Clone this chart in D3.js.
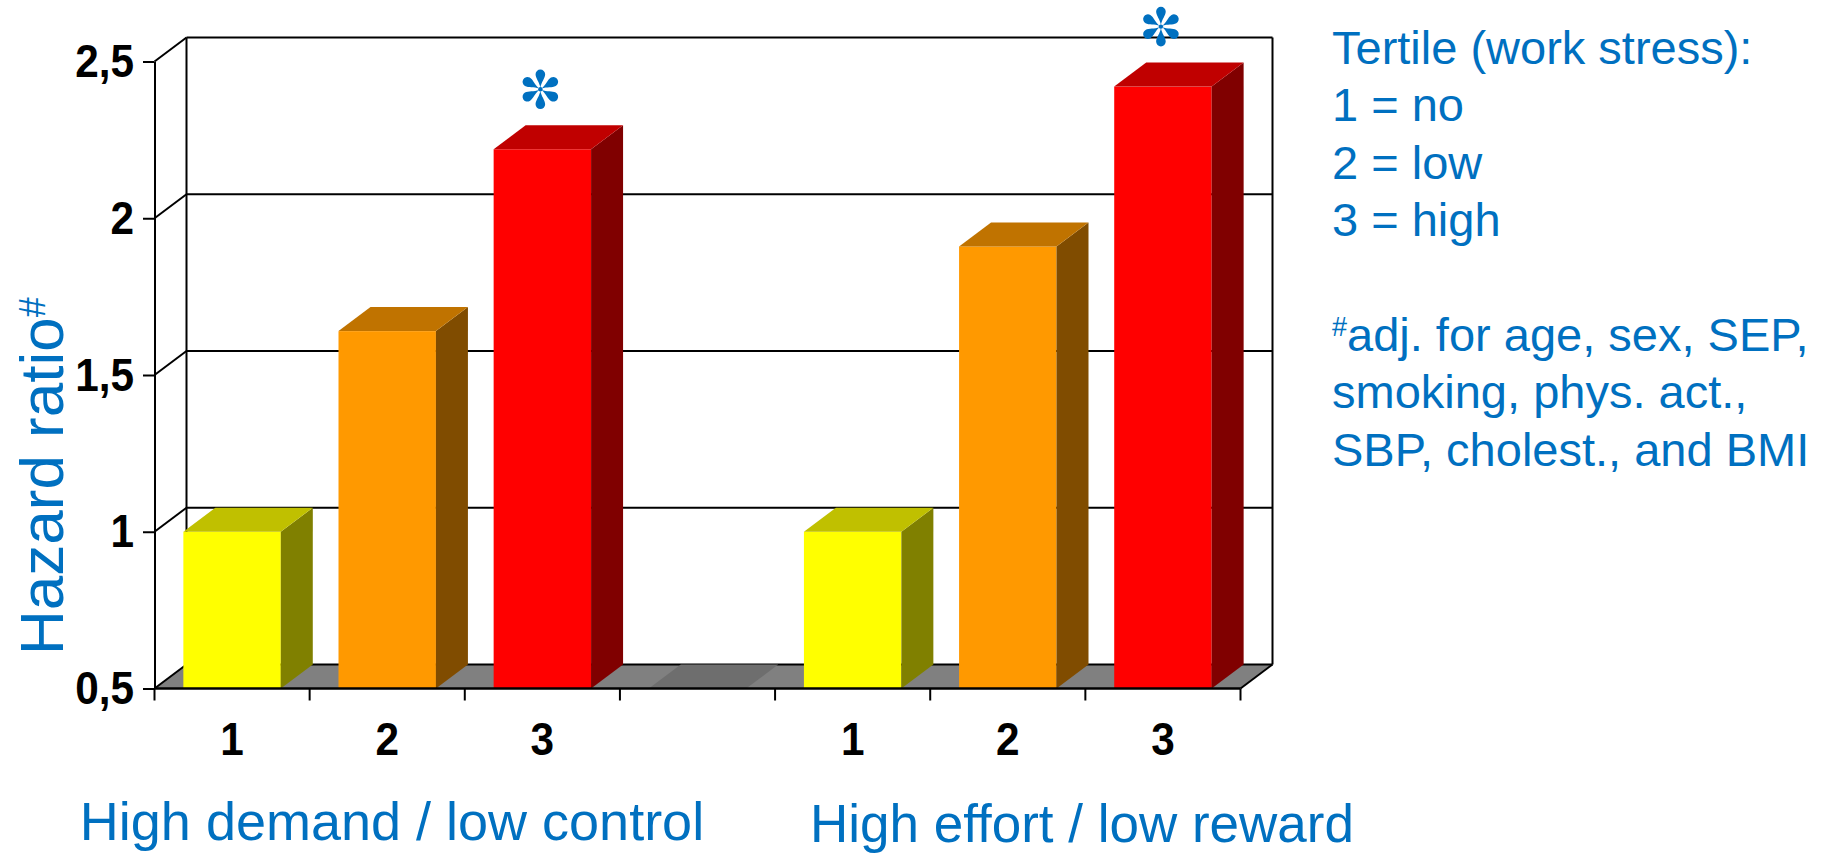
<!DOCTYPE html>
<html>
<head>
<meta charset="utf-8">
<script src="https://cdn.jsdelivr.net/npm/d3@7"></script>
<style>
  body { margin: 0; background: #fff; }
  svg { display: block; font-family: "Liberation Sans", Arial, sans-serif; }
</style>
</head>
<body>
<svg id="chart" width="1825" height="854"></svg>
<script>
// data
const groupNames = ["High demand / low control", "High effort / low reward"];
const tertiles = ["1", "2", "3"];
const demandControl = [1.0, 1.64, 2.22];
const effortReward = [1.0, 1.91, 2.42];
const significant = [false, false, true];
const baseValue = 0.5;
const yTicks = [0.5, 1, 1.5, 2, 2.5];
const yTickLabels = ["0,5", "1", "1,5", "2", "2,5"];
const legendLines = ["Tertile (work stress):", "1 = no", "2 = low", "3 = high"];
const noteLines = ["adj. for age, sex, SEP,", "smoking, phys. act.,", "SBP, cholest., and BMI"];

const frontColors = ["#ffff00", "#ff9900", "#ff0000"];
const topColors = ["#c0c000", "#c07300", "#c00000"];
const sideColors = ["#808000", "#804c00", "#800000"];
const blue = "#0070c0";

// one slot per bar, with an empty slot between the two groups
const bars = [];
demandControl.forEach((v, i) => bars.push({key: "a" + i, label: tertiles[i], value: v, t: i, star: significant[i]}));
bars.push({key: "gap", label: "", value: baseValue, t: -1, star: false});
effortReward.forEach((v, i) => bars.push({key: "b" + i, label: tertiles[i], value: v, t: i, star: significant[i]}));

const depth = {x: 32, y: 24};

const svg = d3.select("#chart");

const y = d3.scaleLinear().domain([0.5, 2.5]).range([688.5, 61.5]);
const x = d3.scaleBand()
  .domain(bars.map(d => d.key))
  .range([154.5, 1240.5])
  .paddingInner(0.372)
  .paddingOuter(0.186);

const x0 = x.range()[0], x1 = x.range()[1];
const yBase = y(baseValue);

// floor
svg.append("path")
  .attr("d", `M${x0},${yBase} L${x1},${yBase} L${x1 + depth.x},${yBase - depth.y} L${x0 + depth.x},${yBase - depth.y} Z`)
  .attr("fill", "#808080");

// back wall gridlines + diagonals from the front axis
const grid = svg.append("g").attr("stroke", "#000").attr("stroke-width", 2).attr("fill", "none");
yTicks.forEach(v => {
  grid.append("line")
    .attr("x1", x0 + depth.x).attr("x2", x1 + depth.x)
    .attr("y1", y(v) - depth.y).attr("y2", y(v) - depth.y);
  grid.append("line")
    .attr("x1", x0).attr("x2", x0 + depth.x)
    .attr("y1", y(v)).attr("y2", y(v) - depth.y);
});
grid.append("line")
  .attr("x1", x0 + depth.x).attr("x2", x0 + depth.x)
  .attr("y1", y(2.5) - depth.y).attr("y2", yBase - depth.y);
grid.append("line")
  .attr("x1", x1 + depth.x).attr("x2", x1 + depth.x)
  .attr("y1", y(2.5) - depth.y).attr("y2", yBase - depth.y);
grid.append("line")
  .attr("x1", x1).attr("x2", x1 + depth.x)
  .attr("y1", yBase).attr("y2", yBase - depth.y);

// bars
const bw = x.bandwidth();
const barG = svg.selectAll("g.bar").data(bars).join("g").attr("class", "bar");

barG.filter(d => d.value > baseValue).append("rect")
  .attr("x", d => x(d.key))
  .attr("y", d => y(d.value))
  .attr("width", bw)
  .attr("height", d => yBase - y(d.value))
  .attr("fill", d => frontColors[d.t]);

barG.filter(d => d.value > baseValue).append("path")
  .attr("d", d => {
    const xr = x(d.key) + bw, yt = y(d.value);
    return `M${xr},${yt} L${xr + depth.x},${yt - depth.y} L${xr + depth.x},${yBase - depth.y} L${xr},${yBase} Z`;
  })
  .attr("fill", d => sideColors[d.t]);

barG.append("path")
  .attr("d", d => {
    const xl = x(d.key), xr = xl + bw, yt = y(d.value);
    return `M${xl},${yt} L${xr},${yt} L${xr + depth.x},${yt - depth.y} L${xl + depth.x},${yt - depth.y} Z`;
  })
  .attr("fill", d => d.t < 0 ? "#6e6e6e" : topColors[d.t]);

// floor front edge
svg.append("line")
  .attr("x1", x0).attr("x2", x1)
  .attr("y1", yBase).attr("y2", yBase)
  .attr("stroke", "#000").attr("stroke-width", 2.5);

// significance stars (six teardrop petals)
const petal = "M0,-1.5 C-0.8,-7 -4.8,-11 -4.8,-15 A4.8,4.8 0 0 1 4.8,-15 C4.8,-11 0.8,-7 0,-1.5 Z";
const stars = svg.selectAll("g.star").data(bars.filter(d => d.star)).join("g")
  .attr("class", "star")
  .attr("transform", d => `translate(${x(d.key) + bw / 2 - 2},${y(d.value) - 60})`);
d3.range(6).forEach(k => {
  stars.append("path").attr("d", petal).attr("fill", blue).attr("transform", `rotate(${k * 60})`);
});
stars.append("circle").attr("r", 2.2).attr("fill", blue);

// narrow the bold tick labels a little, like the reference font
function condense(sel, f) {
  sel.each(function() {
    const w = this.getComputedTextLength();
    d3.select(this).attr("textLength", w * f).attr("lengthAdjust", "spacingAndGlyphs");
  });
}

// y axis
const yAxis = d3.axisLeft(y)
  .tickValues(yTicks)
  .tickFormat((d, i) => yTickLabels[i])
  .tickSize(11.5)
  .tickSizeOuter(0)
  .tickPadding(9);
const gy = svg.append("g").attr("transform", `translate(${x0},0)`).call(yAxis);
gy.selectAll("path, line").attr("stroke", "#000").attr("stroke-width", 2);
gy.selectAll("text")
  .attr("font-family", "'Liberation Sans', Arial, sans-serif")
  .attr("font-size", 47).attr("font-weight", "bold").attr("fill", "#000")
  .call(condense, 0.9);

// x axis: labels at band centres, ticks at band boundaries
const xAxis = d3.axisBottom(x)
  .tickFormat(k => bars.find(d => d.key === k).label)
  .tickSize(0)
  .tickPadding(33);
const gx = svg.append("g").attr("transform", `translate(0,${yBase})`).call(xAxis);
gx.select(".domain").remove();
gx.selectAll("text")
  .attr("font-family", "'Liberation Sans', Arial, sans-serif")
  .attr("font-size", 47).attr("font-weight", "bold").attr("fill", "#000")
  .call(condense, 0.9);
const gap = x.step() * x.paddingInner() / 2;
const bounds = [x0].concat(bars.map(d => x(d.key) + bw + gap));
svg.append("g").selectAll("line").data(bounds).join("line")
  .attr("x1", d => d).attr("x2", d => d)
  .attr("y1", yBase).attr("y2", yBase + 12)
  .attr("stroke", "#000").attr("stroke-width", 2);

// y title
const yTitle = svg.append("text")
  .attr("transform", "translate(63,655) rotate(-90)")
  .attr("font-size", 62).attr("fill", blue);
yTitle.append("tspan").text("Hazard ratio");
yTitle.append("tspan").attr("font-size", 36).attr("dy", -18).text("#");

// group labels
svg.append("text").attr("x", 392).attr("y", 840).attr("text-anchor", "middle")
  .attr("font-size", 54).attr("fill", blue).text(groupNames[0]);
svg.append("text").attr("x", 1082).attr("y", 842).attr("text-anchor", "middle")
  .attr("font-size", 53).attr("fill", blue).text(groupNames[1]);

// legend text on the right
const lg = svg.append("g").attr("font-size", 47).attr("fill", blue);
legendLines.forEach((t, i) => {
  lg.append("text").attr("x", 1332).attr("y", 64 + i * 57.4).text(t);
});
noteLines.forEach((t, i) => {
  const tx = lg.append("text").attr("x", 1332).attr("y", 351 + i * 57.4);
  if (i === 0) {
    tx.append("tspan").attr("font-size", 27).attr("dy", -15).text("#");
    tx.append("tspan").attr("dy", 15).text(t);
  } else {
    tx.text(t);
  }
});
</script>
</body>
</html>
